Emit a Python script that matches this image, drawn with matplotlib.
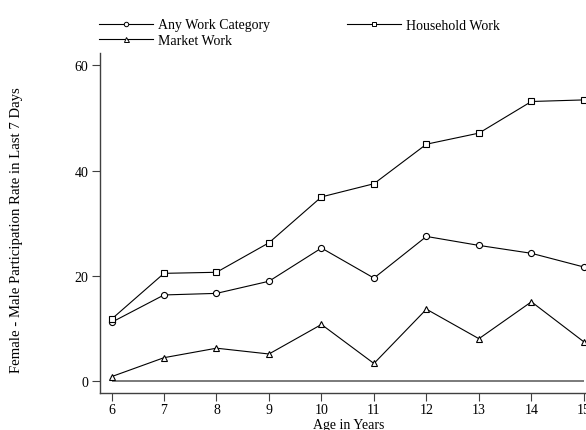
import matplotlib
matplotlib.use("Agg")
import matplotlib.pyplot as plt
from matplotlib.lines import Line2D

ages = [6, 7, 8, 9, 10, 11, 12, 13, 14, 15]
any_work = [11.2, 16.4, 16.7, 19.0, 25.3, 19.6, 27.5, 25.8, 24.3, 21.7]
household = [11.8, 20.5, 20.7, 26.3, 35.0, 37.5, 45.0, 47.1, 53.1, 53.4]
market = [0.9, 4.5, 6.3, 5.2, 10.8, 3.4, 13.7, 8.1, 15.1, 7.5]
yticks = [0, 20, 40, 60]
labels = ["Any Work Category", "Household Work", "Market Work"]

plt.rcParams['font.family'] = ['Liberation Serif', 'DejaVu Serif']
FS = 10

W, H = 586, 431
fig = plt.figure(figsize=(W / 100, H / 100), dpi=100)
ax = fig.add_axes([99.7 / W, 1 - 394 / H, 1 - 99.7 / W, (394 - 54) / H])

ax.set_xlim(5.775, 15.04)
ax.set_ylim(-2.2, 62.3)

ax.hlines(0, ages[0], ages[-1], color='#707070', lw=1.3, zorder=1)

kw = dict(color='black', lw=0.8, mfc='white', mec='black', mew=0.8, zorder=3)
l1, = ax.plot(ages, any_work, marker='o', ms=4.4, **kw)
l2, = ax.plot(ages, household, marker='s', ms=4.8, **kw)
l3, = ax.plot(ages, market, marker='^', ms=5.0, **kw)

for s in ['top', 'right']:
    ax.spines[s].set_visible(False)
for s in ['left', 'bottom']:
    ax.spines[s].set_color('#404040')
    ax.spines[s].set_linewidth(1.0)

ax.set_xticks(ages)
ax.set_xticklabels([str(a) for a in ages])
ax.set_yticks(yticks)
ax.set_yticklabels([str(v) for v in yticks])
ax.tick_params(axis='both', direction='out', length=6, width=0.8, color='#404040',
               labelsize=FS, pad=2)
ax.tick_params(axis='x', pad=1)

fig.text(348.6 / W, 1 - 426 / H, "Age in Years", ha='center', va='center', fontsize=FS)
fig.text(17 / W, 1 - 230 / H, "Female - Male Participation Rate in Last 7 Days",
         rotation=90, ha='center', va='center', fontsize=10.6)

hk = dict(color='black', lw=0.8, mfc='white', mec='black', mew=0.7)
h1 = Line2D([], [], marker='o', ms=3.2, **hk)
h2 = Line2D([], [], marker='s', ms=3.4, **hk)
h3 = Line2D([], [], marker='^', ms=3.6, **hk)
fig.legend([h1, h3, h2], [labels[0], labels[2], labels[1]], ncol=2,
           loc='upper left', bbox_to_anchor=(99.3 / W, 1 - 19.5 / H),
           frameon=False, fontsize=FS, handlelength=3.9, handletextpad=0.35,
           columnspacing=5.5, labelspacing=0.2, borderpad=0, borderaxespad=0)

fig.savefig("out.png", dpi=100)
